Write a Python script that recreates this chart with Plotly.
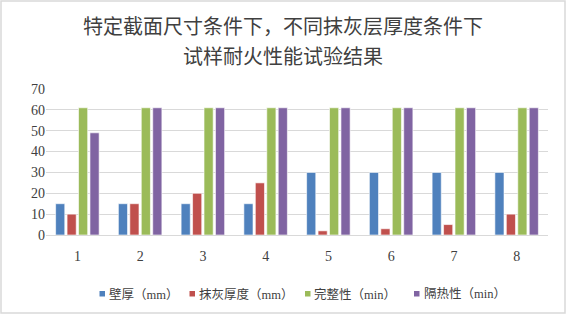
import plotly.graph_objects as go

categories = ["1", "2", "3", "4", "5", "6", "7", "8"]
wall = [15, 15, 15, 15, 30, 30, 30, 30]
plaster = [10, 15, 20, 25, 2, 3, 5, 10]
integrity = [61, 61, 61, 61, 61, 61, 61, 61]
insulation = [49, 61, 61, 61, 61, 61, 61, 61]
names = ["壁厚（mm）", "抹灰厚度（mm）", "完整性（min）", "隔热性（min）"]
colors = ["#4F81BD", "#C0504D", "#9BBB59", "#8064A2"]
title_lines = ["特定截面尺寸条件下，不同抹灰层厚度条件下", "试样耐火性能试验结果"]

FONT = "Liberation Serif, Noto Sans CJK SC"

fig = go.Figure()
for vals, name, col in zip([wall, plaster, integrity, insulation], names, colors):
    fig.add_trace(go.Bar(x=categories, y=vals, name=name, marker_color=col,
                         marker_line=dict(color="rgba(255,255,255,0.6)", width=1),
                         showlegend=False))

W, H = 567, 317
L, R, T, B = 46, 19, 89, 82
pw, ph = W - L - R, H - T - B

def px_x(p):
    return (p - L) / pw

def px_y(p):
    return 1 - (p - T) / ph

# legend built from names/colors (layout only)
legend_sq_x = [99.5, 189.5, 305, 414]
legend_txt_x = [107, 197, 312, 422]
legend_y = 294
shapes = [dict(type="rect", xref="paper", yref="paper",
               x0=px_x(1), x1=px_x(565), y0=px_y(313), y1=px_y(1),
               line=dict(color="#d9d9d9", width=1.5), layer="below")]
annotations = []
for line, yc in zip(title_lines, [27, 57]):
    annotations.append(dict(text=line, xref="paper", yref="paper", x=px_x(283), y=px_y(yc),
                            xanchor="center", yanchor="middle", showarrow=False,
                            font=dict(size=20, color="#404040", family=FONT)))
for name, col, sx, tx in zip(names, colors, legend_sq_x, legend_txt_x):
    shapes.append(dict(type="rect", xref="paper", yref="paper",
                       x0=px_x(sx), x1=px_x(sx + 5.5), y0=px_y(legend_y + 2.5), y1=px_y(legend_y - 3),
                       fillcolor=col, line=dict(width=0)))
    annotations.append(dict(text=name, xref="paper", yref="paper", x=px_x(tx), y=px_y(legend_y),
                            xanchor="left", yanchor="middle", showarrow=False,
                            font=dict(size=12.5, color="#404040", family=FONT)))

fig.update_layout(
    width=W, height=H,
    margin=dict(l=L, r=R, t=T, b=B, autoexpand=False),
    paper_bgcolor="white", plot_bgcolor="white",
    barmode="group", bargap=0.27, bargroupgap=0.2,
    font=dict(family=FONT, color="#404040"),
    showlegend=False,
    xaxis=dict(showgrid=False, showline=True, linecolor="#d9d9d9", linewidth=1,
               ticks="", tickfont=dict(size=14, color="#404040"), ticklabelstandoff=8),
    yaxis=dict(range=[0, 70], dtick=10, showgrid=True, gridcolor="#d9d9d9", gridwidth=1,
               zeroline=False, ticks="", tickfont=dict(size=14, color="#404040")),
    annotations=annotations,
    shapes=shapes,
)

fig.write_html("out.html", config={"displayModeBar": False},
               post_script="document.body.style.margin='0px';document.body.style.overflow='hidden';")
